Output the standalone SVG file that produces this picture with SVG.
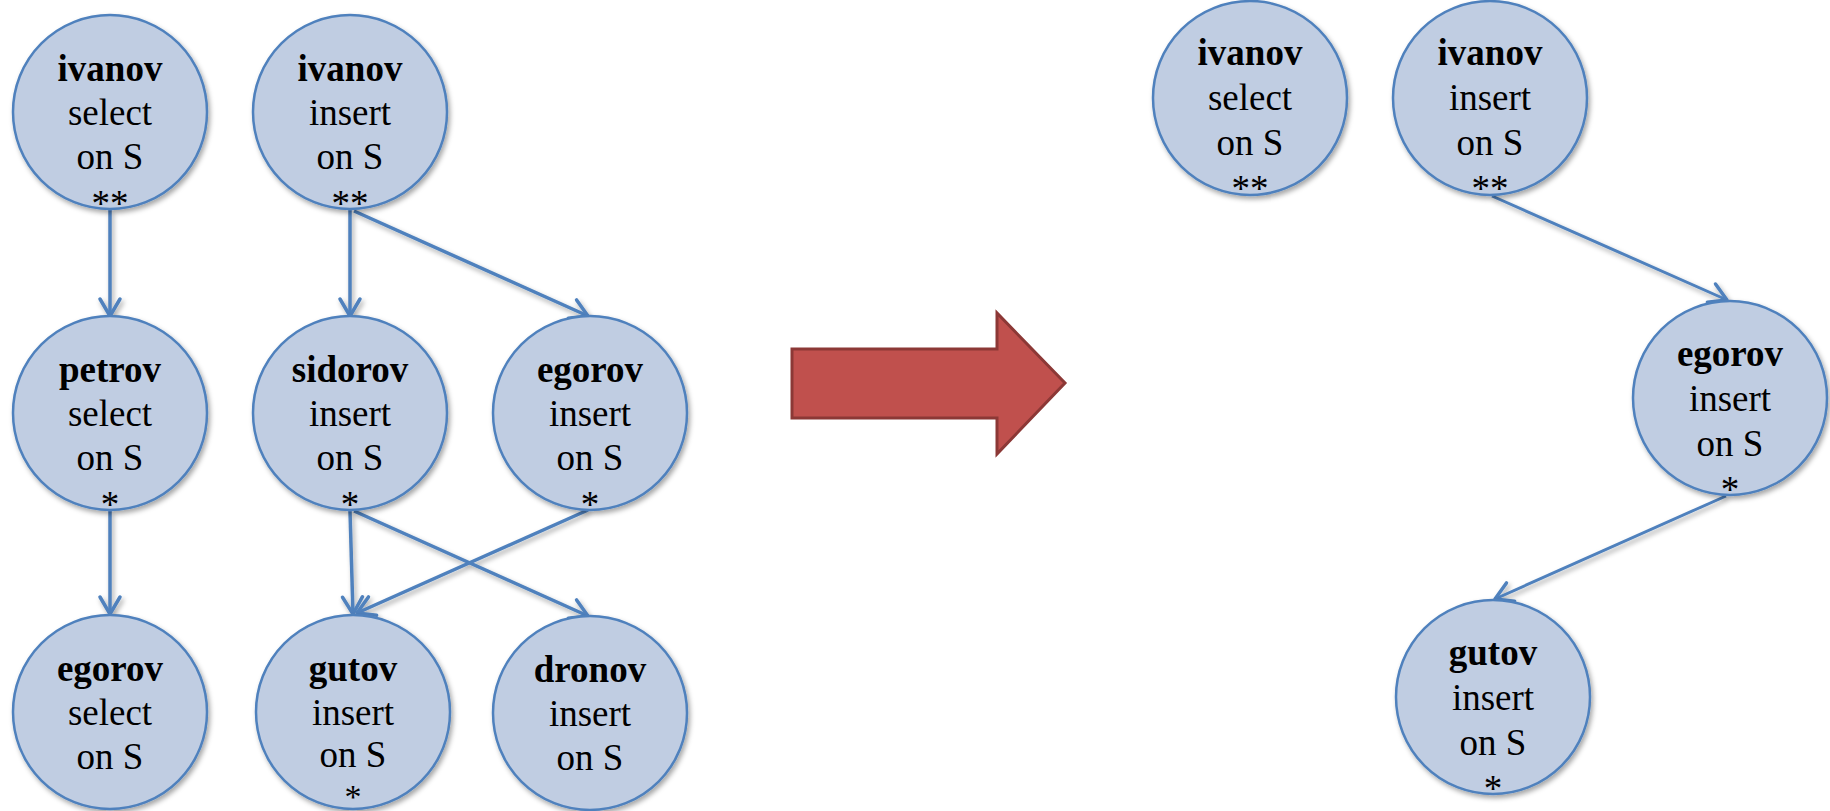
<svg xmlns="http://www.w3.org/2000/svg" width="1830" height="811" viewBox="0 0 1830 811">
<style>
.node circle{fill:#C0CDE2;stroke:#4F81BD;stroke-width:2.5}
.edge{stroke:#4F81BD;stroke-width:3.5;fill:none;marker-end:url(#arr)}
.edge.thin{stroke-width:3}
</style>
<defs>
<filter id="sh" x="-20%" y="-20%" width="150%" height="150%">
<feDropShadow dx="2" dy="3" stdDeviation="2.5" flood-color="#000" flood-opacity="0.35"/>
</filter>
<marker id="arr" markerUnits="userSpaceOnUse" viewBox="0 0 22 22" refX="20" refY="11" markerWidth="22" markerHeight="22" orient="auto" overflow="visible">
<path d="M3,1 L20,11 L3,21" fill="none" stroke="#4F81BD" stroke-width="3.5" stroke-linecap="round" stroke-linejoin="round"/>
</marker>
</defs>

<g id="connectors" filter="url(#sh)">
<line class="edge" x1="110" y1="210" x2="110" y2="316"/>
<line class="edge" x1="350" y1="210" x2="350" y2="316"/>
<line class="edge" x1="354" y1="211" x2="588" y2="316"/>
<line class="edge" x1="110" y1="511" x2="110" y2="614"/>
<line class="edge" x1="350" y1="511" x2="353" y2="614"/>
<line class="edge" x1="354" y1="511" x2="588" y2="616"/>
<line class="edge" x1="588" y1="510" x2="357" y2="613"/>
<line class="edge thin" x1="1492" y1="196" x2="1727" y2="300"/>
<line class="edge thin" x1="1726" y1="496" x2="1495" y2="599"/>
</g>

<g id="n1" class="node"><circle cx="110" cy="112" r="97" filter="url(#sh)"/>
<g font-size="37" text-anchor="middle" fill="#000"><text style="font-family:'Liberation Serif',serif" font-weight="bold" x="110" y="81">ivanov</text><text style="font-family:'Liberation Serif',serif" x="110" y="125">select</text><text style="font-family:'Liberation Serif',serif" x="110" y="169">on S</text><text style="font-family:'Liberation Serif',serif" x="110" y="216">**</text></g></g>
<g id="n2" class="node"><circle cx="350" cy="112" r="97" filter="url(#sh)"/>
<g font-size="37" text-anchor="middle" fill="#000"><text style="font-family:'Liberation Serif',serif" font-weight="bold" x="350" y="81">ivanov</text><text style="font-family:'Liberation Serif',serif" x="350" y="125">insert</text><text style="font-family:'Liberation Serif',serif" x="350" y="169">on S</text><text style="font-family:'Liberation Serif',serif" x="350" y="216">**</text></g></g>
<g id="n3" class="node"><circle cx="110" cy="413" r="97" filter="url(#sh)"/>
<g font-size="37" text-anchor="middle" fill="#000"><text style="font-family:'Liberation Serif',serif" font-weight="bold" x="110" y="382">petrov</text><text style="font-family:'Liberation Serif',serif" x="110" y="426">select</text><text style="font-family:'Liberation Serif',serif" x="110" y="470">on S</text><text style="font-family:'Liberation Serif',serif" x="110" y="517">*</text></g></g>
<g id="n4" class="node"><circle cx="350" cy="413" r="97" filter="url(#sh)"/>
<g font-size="37" text-anchor="middle" fill="#000"><text style="font-family:'Liberation Serif',serif" font-weight="bold" x="350" y="382">sidorov</text><text style="font-family:'Liberation Serif',serif" x="350" y="426">insert</text><text style="font-family:'Liberation Serif',serif" x="350" y="470">on S</text><text style="font-family:'Liberation Serif',serif" x="350" y="517">*</text></g></g>
<g id="n5" class="node"><circle cx="590" cy="413" r="97" filter="url(#sh)"/>
<g font-size="37" text-anchor="middle" fill="#000"><text style="font-family:'Liberation Serif',serif" font-weight="bold" x="590" y="382">egorov</text><text style="font-family:'Liberation Serif',serif" x="590" y="426">insert</text><text style="font-family:'Liberation Serif',serif" x="590" y="470">on S</text><text style="font-family:'Liberation Serif',serif" x="590" y="517">*</text></g></g>
<g id="n6" class="node"><circle cx="110" cy="712" r="97" filter="url(#sh)"/>
<g font-size="37" text-anchor="middle" fill="#000"><text style="font-family:'Liberation Serif',serif" font-weight="bold" x="110" y="681">egorov</text><text style="font-family:'Liberation Serif',serif" x="110" y="725">select</text><text style="font-family:'Liberation Serif',serif" x="110" y="769">on S</text></g></g>
<g id="n7" class="node"><circle cx="353" cy="712" r="97" filter="url(#sh)"/>
<g font-size="37" text-anchor="middle" fill="#000"><text style="font-family:'Liberation Serif',serif" font-weight="bold" x="353" y="681">gutov</text><text style="font-family:'Liberation Serif',serif" x="353" y="725">insert</text><text style="font-family:'Liberation Serif',serif" x="353" y="767">on S</text><text style="font-family:'Liberation Serif',serif" font-size="34" x="353" y="808">*</text></g></g>
<g id="n8" class="node"><circle cx="590" cy="713" r="97" filter="url(#sh)"/>
<g font-size="37" text-anchor="middle" fill="#000"><text style="font-family:'Liberation Serif',serif" font-weight="bold" x="590" y="682">dronov</text><text style="font-family:'Liberation Serif',serif" x="590" y="726">insert</text><text style="font-family:'Liberation Serif',serif" x="590" y="770">on S</text></g></g>

<g id="r1" class="node"><circle cx="1250" cy="98" r="97" filter="url(#sh)"/>
<g font-size="37" text-anchor="middle" fill="#000"><text style="font-family:'Liberation Serif',serif" font-weight="bold" x="1250" y="65">ivanov</text><text style="font-family:'Liberation Serif',serif" x="1250" y="110">select</text><text style="font-family:'Liberation Serif',serif" x="1250" y="155">on S</text><text style="font-family:'Liberation Serif',serif" x="1250" y="201">**</text></g></g>
<g id="r2" class="node"><circle cx="1490" cy="98" r="97" filter="url(#sh)"/>
<g font-size="37" text-anchor="middle" fill="#000"><text style="font-family:'Liberation Serif',serif" font-weight="bold" x="1490" y="65">ivanov</text><text style="font-family:'Liberation Serif',serif" x="1490" y="110">insert</text><text style="font-family:'Liberation Serif',serif" x="1490" y="155">on S</text><text style="font-family:'Liberation Serif',serif" x="1490" y="201">**</text></g></g>
<g id="r3" class="node"><circle cx="1730" cy="398" r="97" filter="url(#sh)"/>
<g font-size="37" text-anchor="middle" fill="#000"><text style="font-family:'Liberation Serif',serif" font-weight="bold" x="1730" y="366">egorov</text><text style="font-family:'Liberation Serif',serif" x="1730" y="411">insert</text><text style="font-family:'Liberation Serif',serif" x="1730" y="456">on S</text><text style="font-family:'Liberation Serif',serif" x="1730" y="502">*</text></g></g>
<g id="r4" class="node"><circle cx="1493" cy="697" r="97" filter="url(#sh)"/>
<g font-size="37" text-anchor="middle" fill="#000"><text style="font-family:'Liberation Serif',serif" font-weight="bold" x="1493" y="665">gutov</text><text style="font-family:'Liberation Serif',serif" x="1493" y="710">insert</text><text style="font-family:'Liberation Serif',serif" x="1493" y="755">on S</text><text style="font-family:'Liberation Serif',serif" x="1493" y="801">*</text></g></g>

<g id="bigarrow">
<polygon points="792,349 997,349 997,313 1065,383 997,454 997,418 792,418" fill="#C0504D" stroke="#8C3836" stroke-width="3" stroke-linejoin="miter"/>
</g>
</svg>
